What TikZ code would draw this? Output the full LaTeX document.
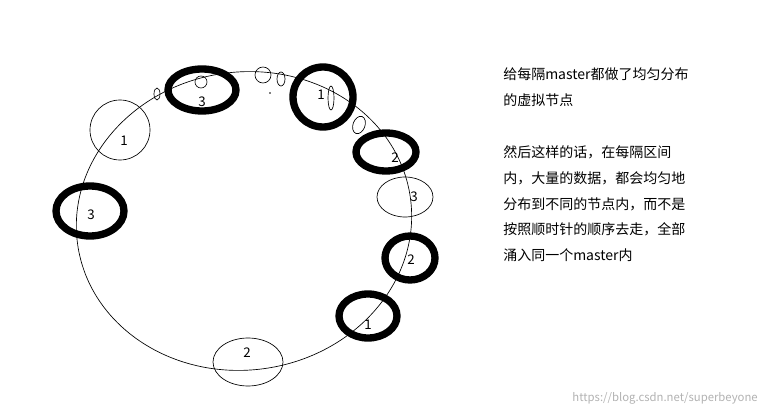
\documentclass[tikz,border=0pt]{standalone}
\usepackage{fontspec}
\newfontfamily\cjk{Noto Sans CJK SC}
\begin{document}
\begin{tikzpicture}[x=0.75pt,y=-0.75pt,
  bold/.style={draw,line width=5.5pt},
  thin/.style={draw,line width=0.5pt},
  lbl/.style={font=\cjk\fontsize{10}{12}\selectfont,inner sep=0pt},
  txt/.style={font=\cjk\fontsize{10.5}{12}\selectfont,anchor=west,inner sep=0pt}]
\useasboundingbox (0,0) rectangle (766,416);
\draw[thin,rotate around={8:(244,221)}] (244,221) ellipse [x radius=168, y radius=149];
\draw[bold] (202,90) ellipse [x radius=34, y radius=21];
\draw[thin] (201,82) circle (6);
\draw[thin] (157,94) ellipse [x radius=3, y radius=6];
\draw[thin] (263,75) circle (8);
\draw[thin] (281,79) ellipse [x radius=4, y radius=7];
\fill (270,93) circle (0.8);
\draw[bold] (323,97) ellipse [x radius=30, y radius=30];
\draw[thin] (331,98) ellipse [x radius=3, y radius=12];
\draw[thin,rotate around={-20:(359,125)}] (359,125) ellipse [x radius=6, y radius=9];
\draw[bold] (386,152) ellipse [x radius=30, y radius=19];
\draw[thin] (405,197) ellipse [x radius=28, y radius=20];
\draw[bold] (410,258) ellipse [x radius=25, y radius=22];
\draw[bold] (368,316) ellipse [x radius=29, y radius=22];
\draw[thin] (248,362) ellipse [x radius=35, y radius=24];
\draw[bold] (90,211) ellipse [x radius=34, y radius=25];
\draw[thin] (120,130) ellipse [x radius=30, y radius=30];
\node[lbl] (l1) at (202,102) {3};
\node[lbl] (l2) at (321,95) {1};
\node[lbl] (l3) at (395,158) {2};
\node[lbl] (l4) at (414,197) {3};
\node[lbl] (l5) at (411,260) {2};
\node[lbl] (l6) at (368,325) {1};
\node[lbl] (l7) at (247,353) {2};
\node[lbl] (l8) at (91,215) {3};
\node[lbl] (l9) at (124,141) {1};
\node[txt] (t1) at (503,74) {给每隔master都做了均匀分布};
\node[txt] (t2) at (503,100) {的虚拟节点};
\node[txt] (t3) at (503,152) {然后这样的话，在每隔区间};
\node[txt] (t4) at (503,178) {内，大量的数据，都会均匀地};
\node[txt] (t5) at (503,204) {分布到不同的节点内，而不是};
\node[txt] (t6) at (503,229) {按照顺时针的顺序去走，全部};
\node[txt] (t7) at (503,255) {涌入同一个master内};
\node[font=\cjk\fontsize{8.5}{10}\selectfont,text=gray!60,anchor=east,inner sep=0pt] (wm) at (758,398) {https://blog.csdn.net/superbeyone};
\end{tikzpicture}
\end{document}
